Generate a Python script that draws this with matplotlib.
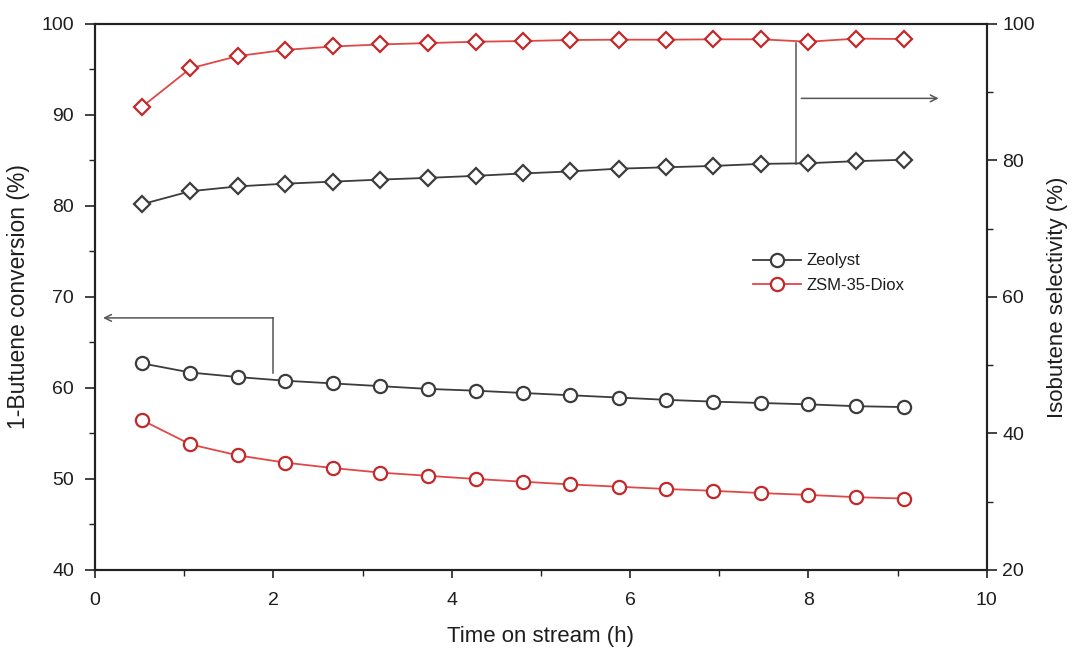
import matplotlib
matplotlib.use("Agg")
import matplotlib.pyplot as plt
from matplotlib.lines import Line2D

plt.rcParams['font.family'] = ['Liberation Sans', 'DejaVu Sans']

time_h = [0.53, 1.07, 1.60, 2.13, 2.67, 3.20, 3.73, 4.27, 4.80, 5.33,
          5.87, 6.40, 6.93, 7.47, 8.00, 8.53, 9.07]
conv_zeolyst = [62.7, 61.7, 61.2, 60.8, 60.5, 60.2, 59.9, 59.7, 59.45, 59.2,
                58.95, 58.7, 58.5, 58.35, 58.2, 58.0, 57.9]
conv_zsm = [56.45, 53.8, 52.6, 51.8, 51.2, 50.7, 50.35, 50.0, 49.7, 49.4,
            49.15, 48.9, 48.7, 48.45, 48.25, 48.0, 47.85]
sel_zeolyst = [73.6, 75.5, 76.2, 76.6, 76.9, 77.2, 77.45, 77.75, 78.1, 78.4,
               78.8, 79.0, 79.2, 79.5, 79.6, 79.9, 80.1]
sel_zsm = [87.9, 93.5, 95.3, 96.2, 96.7, 97.0, 97.2, 97.4, 97.5, 97.65,
           97.7, 97.7, 97.75, 97.75, 97.4, 97.85, 97.8]

labels = ["Zeolyst", "ZSM-35-Diox"]
GRAY = "#3c3c3c"
RED_LINE = "#e04848"
RED_EDGE = "#c42828"
TXT = "#1e1e1e"

fig = plt.figure(figsize=(10.75, 6.48), dpi=100)
ax = fig.add_axes([0.0884, 0.1204, 0.8296, 0.8426])
ax2 = ax.twinx()

lw = 1.3
mew = 1.6
ax.plot(time_h, conv_zeolyst, color=GRAY, lw=lw, marker='o', ms=9.5,
        mfc='white', mec=GRAY, mew=mew, zorder=3)
ax.plot(time_h, conv_zsm, color=RED_LINE, lw=lw, marker='o', ms=9.5,
        mfc='white', mec=RED_EDGE, mew=mew, zorder=3)
ax2.plot(time_h, sel_zeolyst, color=GRAY, lw=lw, marker='D', ms=8.5,
         mfc='white', mec=GRAY, mew=mew, zorder=3)
ax2.plot(time_h, sel_zsm, color=RED_LINE, lw=lw, marker='D', ms=8.5,
         mfc='white', mec=RED_EDGE, mew=mew, zorder=3)

ax.set_xlim(0, 10)
ax.set_ylim(40, 100)
ax2.set_ylim(20, 100)
ax.set_xticks([0, 2, 4, 6, 8, 10])
ax.set_xticks([1, 3, 5, 7, 9], minor=True)
ax.set_yticks([40, 50, 60, 70, 80, 90, 100])
ax.set_yticks([45, 55, 65, 75, 85, 95], minor=True)
ax2.set_yticks([20, 40, 60, 80, 100])
ax2.set_yticks([30, 50, 70, 90], minor=True)

for a in (ax, ax2):
    for s in a.spines.values():
        s.set_linewidth(1.5)
        s.set_color('#222222')
ax.tick_params(axis='x', which='major', direction='out', length=6, width=1.2,
               labelsize=14, colors='#222222', labelcolor=TXT, pad=10, top=False)
ax.tick_params(axis='y', which='major', direction='out', length=7, width=1.2,
               labelsize=14, colors='#222222', labelcolor=TXT, pad=8)
ax.tick_params(axis='both', which='minor', direction='out', length=4, width=1.0,
               colors='#222222', top=False)
ax2.tick_params(axis='y', which='major', direction='out', length=7, width=1.2,
                labelsize=14, colors='#222222', labelcolor=TXT, pad=4)
ax2.tick_params(axis='y', which='minor', direction='out', length=4, width=1.0,
                colors='#222222')

ax.set_xlabel("Time on stream (h)", fontsize=16, color=TXT, labelpad=12)
ax.set_ylabel("1-Butuene conversion (%)", fontsize=16.5, color=TXT, labelpad=8)
ax2.set_ylabel("Isobutene selectivity (%)", fontsize=16, color=TXT, labelpad=9)

# annotation arrows
ax.plot([2.0, 2.0], [61.65, 67.7], color='#555555', lw=1.1, zorder=2)
ax.annotate("", xy=(0.09, 67.7), xytext=(2.0, 67.7),
            arrowprops=dict(arrowstyle='->', color='#555555', lw=1.1,
                            shrinkA=0, shrinkB=0, mutation_scale=12))
ax2.plot([7.86, 7.86], [79.5, 97.2], color='#555555', lw=1.1, zorder=2)
ax2.annotate("", xy=(9.46, 89.1), xytext=(7.92, 89.1),
             arrowprops=dict(arrowstyle='->', color='#555555', lw=1.1,
                             shrinkA=0, shrinkB=0, mutation_scale=12))

handles = [
    Line2D([], [], color=GRAY, lw=lw, marker='o', ms=9.5, mfc='white', mec=GRAY, mew=mew),
    Line2D([], [], color=RED_LINE, lw=lw, marker='o', ms=9.5, mfc='white', mec=RED_EDGE, mew=mew),
]
ax.legend(handles, labels, loc='center left',
          bbox_to_anchor=(741 / 1075, 1 - 273 / 648), bbox_transform=fig.transFigure,
          frameon=False, fontsize=12, handlelength=2.9, handletextpad=0.35,
          labelspacing=0.55, borderpad=0.2, labelcolor=TXT)

fig.savefig("out.png", dpi=100)
